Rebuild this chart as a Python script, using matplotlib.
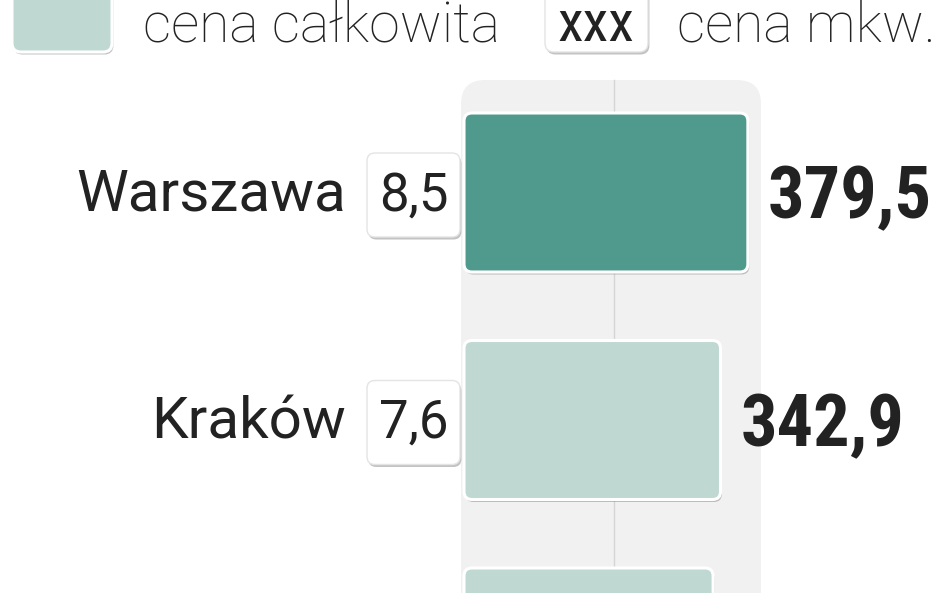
import matplotlib
matplotlib.use("Agg")
import matplotlib.pyplot as plt
from matplotlib.patches import FancyBboxPatch
from matplotlib import patheffects as pe
from matplotlib.transforms import IdentityTransform
import matplotlib.font_manager as fm

# ---------------- data ----------------
cities = ["Warszawa", "Kraków", ""]          # third row is cut off in the reference
total_price = [379.5, 342.9, 333.0]          # cena całkowita (tys. zł)
price_per_sqm = ["8,5", "7,6", ""]           # cena mkw. (tys. zł)
total_labels = ["379,5", "342,9", ""]
highlight = [True, False, False]
legend_labels = ["cena całkowita", "cena mkw."]
legend_box_text = "xxx"
grid_values = [200]

# ---------------- style ----------------
DARK = "#4f9a8d"
LIGHT = "#bfd8d1"
BAND = "#f2f1f1"
GRID = "#d6d4d4"
TXT = "#222222"

names = {f.name for f in fm.fontManager.ttflist}
def pick(*cands):
    for n in cands:
        if n in names:
            return n
    return "DejaVu Sans"
REG = pick("Roboto", "Noto Sans", "Liberation Sans")
COND = pick("Roboto Condensed", "Liberation Sans Narrow", "Roboto")

W, H, DPI = 948, 593, 100
fig = plt.figure(figsize=(W / DPI, H / DPI), dpi=DPI)
ax = fig.add_axes([0, 0, 1, 1])
ax.set_axis_off()

X0, SX = 464.0, 0.748     # pixel of value 0, pixels per unit
Y0, SY = 192.5, 227.5     # pixel of first row centre, pixels per row
ax.set_xlim(-X0 / SX, (W - X0) / SX)
ax.set_ylim((H - Y0) / SY, -Y0 / SY)

def dx(px):
    return px / SX
def dy(px):
    return px / SY

ASPECT = SX / SY
shadow = [pe.SimplePatchShadow(offset=(1.0, -1.8), shadow_rgbFace="#7a7a7a", alpha=0.45), pe.Normal()]

# background band
band = FancyBboxPatch((dx(-3), dy(80 - Y0)), dx(300), dy(900),
                      boxstyle=f"round,pad=0,rounding_size={dx(24)}",
                      mutation_aspect=ASPECT, fc=BAND, ec="none", zorder=0)
ax.add_patch(band)
for g in grid_values:
    ax.plot([g, g], [dy(80 - Y0), dy(H)], color=GRID, lw=1.0, zorder=1)

n = len(cities)
BH = dy(159)
for i in range(n):
    v = total_price[i]
    bar = FancyBboxPatch((0, i - BH / 2), v, BH,
                         boxstyle=f"round,pad=0,rounding_size={dx(8)}",
                         mutation_aspect=ASPECT,
                         fc=DARK if highlight[i] else LIGHT, ec="white", lw=2.2, zorder=3)
    bar.set_path_effects(shadow)
    ax.add_patch(bar)

    if total_labels[i]:
        ax.annotate(total_labels[i], xy=(v, i), xytext=(20, -26), textcoords="offset pixels",
                    ha="left", va="baseline", fontsize=52, fontweight="bold",
                    family=COND, color=TXT, zorder=5)
    if price_per_sqm[i]:
        box = FancyBboxPatch((dx(367 - X0), i + dy(2.5) - dy(84) / 2), dx(93), dy(84),
                             boxstyle=f"round,pad=0,rounding_size={dx(8)}",
                             mutation_aspect=ASPECT, fc="white", ec="#e4e4e4", lw=1.0, zorder=3)
        box.set_path_effects(shadow)
        ax.add_patch(box)
        ax.annotate(price_per_sqm[i], xy=(0, i), xytext=(413.5 - X0, -18), textcoords="offset pixels",
                    ha="center", va="baseline", fontsize=38, family=REG, color=TXT, zorder=5)
    if cities[i]:
        ax.annotate(cities[i], xy=(0, i), xytext=(346 - X0, -18), textcoords="offset pixels",
                    ha="right", va="baseline", fontsize=42, family=REG, color=TXT, zorder=5)

# ---------------- legend (pixel coordinates) ----------------
ID = IdentityTransform()
def py(y):
    return H - y

sq = FancyBboxPatch((12, py(52)), 100, 70, boxstyle="round,pad=0,rounding_size=9",
                    fc=LIGHT, ec="white", lw=2.2, transform=ID, zorder=3)
sq.set_path_effects(shadow)
fig.patches.append(sq)
fig.text(143, py(41), legend_labels[0], transform=ID, ha="left", va="baseline",
         fontsize=40, fontweight="light", family=REG, color=TXT)

bx = FancyBboxPatch((545, py(52)), 103, 70, boxstyle="round,pad=0,rounding_size=9",
                    fc="white", ec="#e4e4e4", lw=1.0, transform=ID, zorder=3)
bx.set_path_effects(shadow)
fig.patches.append(bx)
fig.text(596, py(41), legend_box_text, transform=ID, ha="center", va="baseline",
         fontsize=42, family=COND, color=TXT)
fig.text(677, py(41), legend_labels[1], transform=ID, ha="left", va="baseline",
         fontsize=40, fontweight="light", family=REG, color=TXT)

fig.savefig("out.png", dpi=DPI, facecolor="white")
